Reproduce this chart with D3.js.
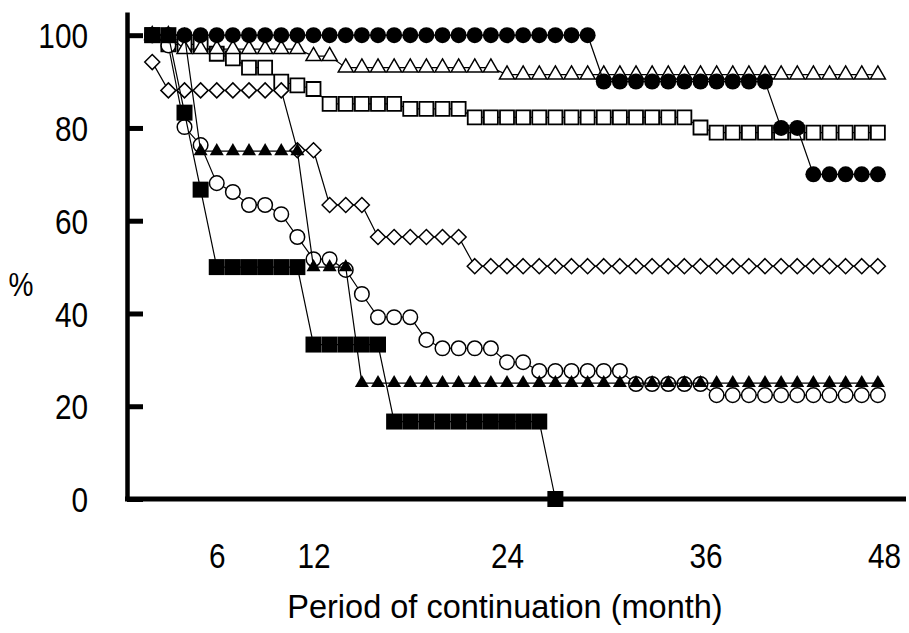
<!DOCTYPE html>
<html>
<head>
<meta charset="utf-8">
<script src="https://cdn.jsdelivr.net/npm/d3@7"></script>
<style>
  body { margin: 0; background: #fff; }
  svg { display: block; }
</style>
</head>
<body>
<script>
// month of each marker (x axis)
var months = [2, 3, 4, 5, 6, 7, 8, 9, 10, 11, 12, 13, 14, 15, 16, 17, 18, 19, 20, 21, 22, 23, 24,
  25, 26, 27, 28, 29, 30, 31, 32, 33, 34, 35, 36, 37, 38, 39, 40, 41, 42, 43, 44, 45, 46, 47];

// continuation rate (%) per series, one value per month above
var filledCircles = [100, 100, 100, 100, 100, 100, 100, 100, 100, 100, 100, 100, 100, 100, 100, 100,
  100, 100, 100, 100, 100, 100, 100, 100, 100, 100, 100, 100,
  90, 90, 90, 90, 90, 90, 90, 90, 90, 90, 90, 80, 80, 70, 70, 70, 70, 70];

var openTriangles = [100, 100, 97, 97, 97, 97, 97, 97, 97, 97, 95.5, 95.5,
  93, 93, 93, 93, 93, 93, 93, 93, 93, 93,
  91.5, 91.5, 91.5, 91.5, 91.5, 91.5, 91.5, 91.5, 91.5, 91.5, 91.5, 91.5,
  91.5, 91.5, 91.5, 91.5, 91.5, 91.5, 91.5, 91.5, 91.5, 91.5, 91.5, 91.5];

var openSquares = [100, 98, 98, 98, 96, 95, 93, 93, 90, 89.2, 88.4,
  85.2, 85.2, 85.2, 85.2, 85.2, 84.1, 84.1, 84.1, 84.1,
  82.3, 82.3, 82.3, 82.3, 82.3, 82.3, 82.3, 82.3, 82.3, 82.3, 82.3, 82.3, 82.3, 82.3,
  80.1, 79, 79, 79, 79, 79, 79, 79, 79, 79, 79, 79];

var openDiamonds = [94.2, 88.1, 88.1, 88.1, 88.1, 88.1, 88.1, 88.1, 88.1, 75.2, 75.2,
  63.4, 63.4, 63.4, 56.5, 56.5, 56.5, 56.5, 56.5, 56.5,
  50.2, 50.2, 50.2, 50.2, 50.2, 50.2, 50.2, 50.2, 50.2, 50.2, 50.2, 50.2, 50.2,
  50.2, 50.2, 50.2, 50.2, 50.2, 50.2, 50.2, 50.2, 50.2, 50.2, 50.2, 50.2, 50.2];

var openCircles = [100, 97.8, 80.2, 76.3, 68.1, 66.2, 63.4, 63.4, 61.4, 56.5, 51.7, 51.7,
  49.4, 44.2, 39.2, 39.2, 39.2, 34.3, 32.5, 32.5, 32.5, 32.5, 29.5, 29.5,
  27.6, 27.6, 27.6, 27.6, 27.6, 27.6, 24.8, 24.8, 24.8, 24.8, 24.8,
  22.4, 22.4, 22.4, 22.4, 22.4, 22.4, 22.4, 22.4, 22.4, 22.4, 22.4];

// this one stops at month 27
var filledSquares = [100, 100, 83.3, 66.7, 50, 50, 50, 50, 50, 50,
  33.3, 33.3, 33.3, 33.3, 33.3,
  16.7, 16.7, 16.7, 16.7, 16.7, 16.7, 16.7, 16.7, 16.7, 16.7, 0];

var filledTriangles = [100, 100, 100, 75, 75, 75, 75, 75, 75, 75, 50, 50, 50,
  25, 25, 25, 25, 25, 25, 25, 25, 25, 25, 25, 25, 25, 25, 25, 25, 25,
  25, 25, 25, 25, 25, 25, 25, 25, 25, 25, 25, 25, 25, 25, 25, 25];

var xTicks = [6, 12, 24, 36, 48];
var yTicks = [0, 20, 40, 60, 80, 100];

// svg area
var svgWidth = 909;
var svgHeight = 633;

var svg = d3.select("body")
  .append("svg")
  .attr("width", svgWidth)
  .attr("height", svgHeight);

var xScale = d3.scaleLinear().domain([0, 48]).range([120, 894]);
var yScale = d3.scaleLinear().domain([0, 105]).range([499, 12]);

// digits in the original are tall and narrow -> squeeze horizontally
var numFont = '"Liberation Sans", Arial, sans-serif';
var squeeze = 0.85;

// build a marker outline around (0,0)
function markerPath(shape, s) {
  var p = d3.path();
  if (shape === "circle") {
    p.moveTo(s, 0);
    p.arc(0, 0, s, 0, 2 * Math.PI);
  } else if (shape === "square") {
    p.rect(-s, -s, 2 * s, 2 * s);
  } else if (shape === "diamond") {
    p.moveTo(0, -s); p.lineTo(s, 0); p.lineTo(0, s); p.lineTo(-s, 0); p.closePath();
  } else {
    // triangle, centroid at origin, s = half the base
    var h = s * Math.sqrt(3);
    p.moveTo(0, -2 * h / 3); p.lineTo(s, h / 3); p.lineTo(-s, h / 3); p.closePath();
  }
  return p.toString();
}

// drawing order: bottom first
var series = [
  { values: openSquares, shape: "square", size: 7, filled: false, sw: 1.8 },
  { values: openTriangles, shape: "triangle", size: 7.5, filled: false, sw: 1.5 },
  { values: openDiamonds, shape: "diamond", size: 7.5, filled: false, sw: 1.5 },
  { values: openCircles, shape: "circle", size: 7.3, filled: false, sw: 1.5 },
  { values: filledSquares, shape: "square", size: 8, filled: true, sw: 0 },
  { values: filledTriangles, shape: "triangle", size: 7, filled: true, sw: 0 },
  { values: filledCircles, shape: "circle", size: 8, filled: true, sw: 0 }
];

var line = d3.line()
  .x(d => xScale(d.month))
  .y(d => yScale(d.value));

var plot = svg.append("g");

series.forEach(function (s) {
  var pts = [];
  months.forEach(function (m, i) {
    if (s.values[i] !== undefined) pts.push({ month: m, value: s.values[i] });
  });

  var g = plot.append("g");

  g.append("path")
    .datum(pts)
    .attr("d", line)
    .attr("fill", "none")
    .attr("stroke", "#000")
    .attr("stroke-width", 1.2);

  g.selectAll(".marker")
    .data(pts)
    .enter()
    .append("path")
    .attr("class", "marker")
    .attr("transform", d => `translate(${xScale(d.month)}, ${yScale(d.value)})`)
    .attr("d", markerPath(s.shape, s.size))
    .attr("fill", s.filled ? "#000" : "#fff")
    .attr("stroke", "#000")
    .attr("stroke-width", s.filled ? 0 : s.sw);
});

// y axis: ticks pointing inward
var yPad = 39;
var leftAxis = d3.axisLeft(yScale)
  .tickValues(yTicks)
  .tickSizeInner(-16)
  .tickSizeOuter(0)
  .tickPadding(yPad);

var yAxisG = svg.append("g")
  .attr("transform", "translate(127, 0)")
  .call(leftAxis);

yAxisG.select(".domain").attr("stroke-width", 4.5);
yAxisG.selectAll(".tick line").attr("stroke-width", 5);
yAxisG.selectAll(".tick text")
  .attr("x", -yPad / squeeze)
  .attr("dy", "0.36em")
  .attr("transform", `scale(${squeeze}, 1)`)
  .style("font-family", numFont)
  .style("font-size", "35px")
  .attr("fill", "#000");

// x axis: labels only, the base line is drawn separately
var bottomAxis = d3.axisBottom(xScale)
  .tickValues(xTicks)
  .tickSize(0)
  .tickPadding(44);

var labelNudge = { 36: 5, 48: -10 };

var xAxisG = svg.append("g")
  .attr("transform", "translate(0, 499)")
  .call(bottomAxis);

xAxisG.select(".domain").remove();
xAxisG.selectAll(".tick text")
  .attr("dx", d => (labelNudge[d] || 0) / squeeze)
  .attr("transform", `scale(${squeeze}, 1)`)
  .style("font-family", numFont)
  .style("font-size", "35px")
  .attr("fill", "#000");

svg.append("line")
  .attr("x1", 125)
  .attr("x2", 906)
  .attr("y1", yScale(0))
  .attr("y2", yScale(0))
  .attr("stroke", "#000")
  .attr("stroke-width", 5);

// axis titles
svg.append("text")
  .attr("x", 21 / squeeze)
  .attr("y", 296)
  .attr("transform", `scale(${squeeze}, 1)`)
  .attr("text-anchor", "middle")
  .style("font-family", numFont)
  .style("font-size", "33px")
  .text("%");

svg.append("text")
  .attr("x", 505)
  .attr("y", 618)
  .attr("text-anchor", "middle")
  .style("font-family", numFont)
  .style("font-size", "32.5px")
  .text("Period of continuation (month)");
</script>
</body>
</html>
